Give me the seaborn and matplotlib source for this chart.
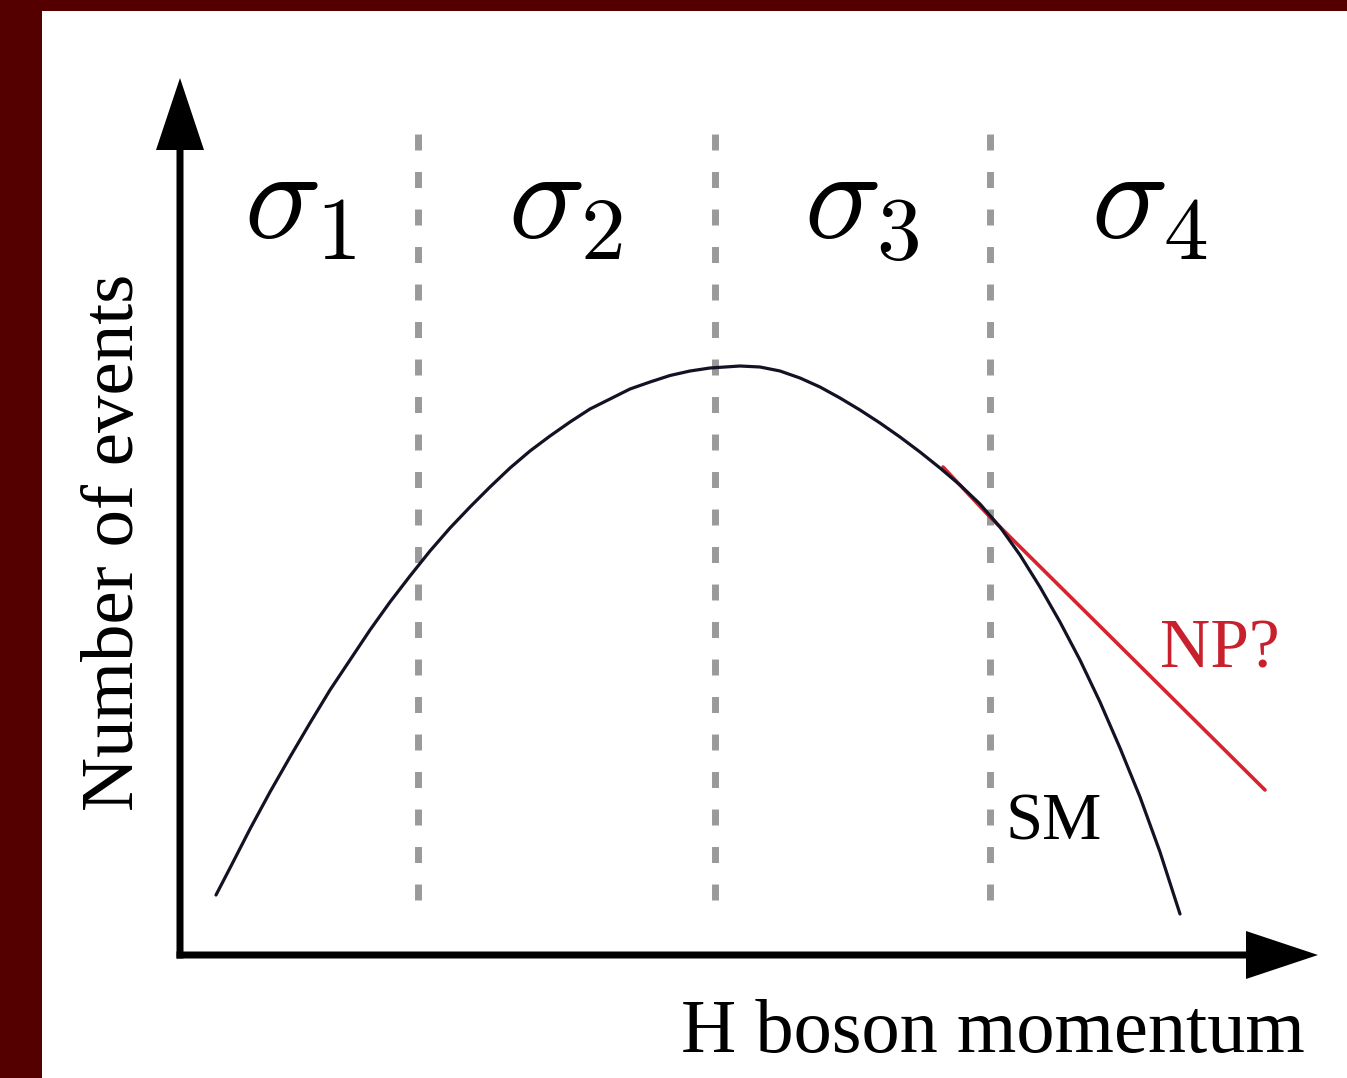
import matplotlib
matplotlib.use("Agg")
import matplotlib.pyplot as plt
from matplotlib.patches import Rectangle
import seaborn as sns
import pandas as pd

# Standard Model spectrum: H boson momentum vs number of events (arbitrary units)
sm_momentum = [0.36, 0.50, 0.70, 0.90, 1.10, 1.30, 1.50, 1.70, 1.90, 2.10,
               2.30, 2.50, 2.70, 2.90, 3.10, 3.30, 3.50, 3.70, 3.90, 4.10,
               4.30, 4.50, 4.70, 4.90, 5.10, 5.30, 5.60, 5.80, 6.00, 6.20,
               6.40, 6.60, 6.80, 7.00, 7.20, 7.40, 7.60, 7.80, 8.00, 8.20,
               8.40, 8.60, 8.80, 9.00, 9.20, 9.40, 9.60, 9.80, 10.00]
sm_events = [0.60, 0.87, 1.26, 1.63, 1.98, 2.32, 2.65, 2.95, 3.25, 3.53,
             3.79, 4.04, 4.27, 4.48, 4.68, 4.87, 5.04, 5.19, 5.33, 5.46,
             5.56, 5.66, 5.73, 5.795, 5.84, 5.87, 5.89, 5.88, 5.84, 5.77,
             5.68, 5.57, 5.45, 5.32, 5.18, 5.03, 4.87, 4.70, 4.51, 4.28,
             4.00, 3.68, 3.33, 2.95, 2.53, 2.07, 1.58, 1.03, 0.41]

# Possible new-physics enhancement in the high-momentum tail
np_momentum = [7.63, 8.10, 10.85]
np_events = [4.88, 4.38, 1.65]

# Bin boundaries and bin labels
bin_edges = [2.38, 5.35, 8.10]
bin_label_pos = [1.20, 3.86, 6.82, 9.70]
bin_labels = [r"$\sigma_1$", r"$\sigma_2$", r"$\sigma_3$", r"$\sigma_4$"]

sns.set_theme(style="white")
plt.rcParams["font.family"] = ["Liberation Serif", "DejaVu Serif"]
plt.rcParams["mathtext.fontset"] = "cm"

fig = plt.figure(figsize=(13.47, 10.78), dpi=100, facecolor="white")
ax = fig.add_axes([0, 0, 1, 1])

# dark red frame on the left and top edges
border = "#550000"
fig.patches.append(Rectangle((0, 0), 42 / 1347, 1, transform=fig.transFigure,
                             facecolor=border, edgecolor="none", zorder=10))
fig.patches.append(Rectangle((0, 1 - 11 / 1078), 1, 11 / 1078, transform=fig.transFigure,
                             facecolor=border, edgecolor="none", zorder=10))

# bin boundaries
for xb in bin_edges:
    ax.plot([xb, xb], [0.55, 8.30], color="#9a9a9a", lw=5.0,
            dashes=(2.3, 3.1), solid_capstyle="butt", dash_capstyle="butt", zorder=1)

# SM curve
sm_df = pd.DataFrame({"momentum": sm_momentum, "events": sm_events})
sns.lineplot(data=sm_df, x="momentum", y="events", ax=ax, color="#121224",
             linewidth=2.3, sort=False, estimator=None, zorder=3)

# NP line
np_df = pd.DataFrame({"momentum": np_momentum, "events": np_events})
sns.lineplot(data=np_df, x="momentum", y="events", ax=ax, color="#d8232e",
             linewidth=2.6, sort=False, estimator=None, zorder=2)

ax.set_xlim(-1.80, 11.67)
ax.set_ylim(-1.23, 9.55)
ax.axis("off")

# axes with arrow heads
arrow_kw = dict(width=0.07, head_width=0.48, head_length=0.72,
                length_includes_head=True, color="black", lw=0, zorder=4)
ax.arrow(0, -0.035, 0, 8.805, **arrow_kw)
ax.arrow(-0.035, 0, 11.415, 0, **arrow_kw)

# bin labels
for xp, lab in zip(bin_label_pos, bin_labels):
    ax.text(xp, 7.47, lab, fontsize=92, ha="center", va="center", color="black")

# axis titles
ax.text(-0.65, 4.13, "Number of events", rotation=90, fontsize=54,
        ha="center", va="center", color="black")
ax.text(11.25, -0.97, "H boson momentum", fontsize=55,
        ha="right", va="baseline", color="black")

# curve annotations
ax.text(8.25, 1.15, "SM", fontsize=48, ha="left", va="baseline", color="black")
ax.text(9.80, 2.87, "NP?", fontsize=50, ha="left", va="baseline", color="#c8202c")

fig.savefig("out.png", dpi=100, facecolor="white")
